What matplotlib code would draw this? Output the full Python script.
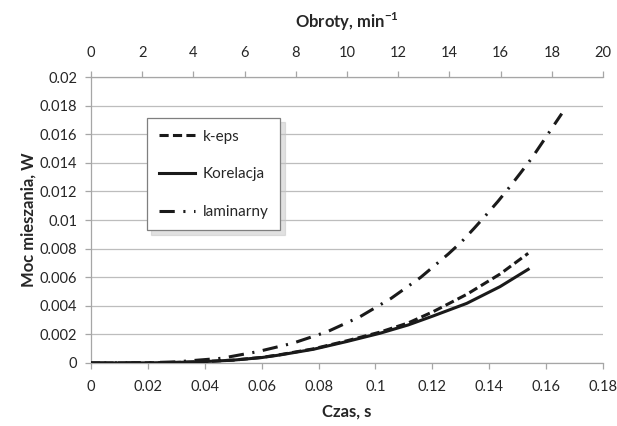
import matplotlib
matplotlib.use('Agg')
import matplotlib.pyplot as plt
import numpy as np

plt.rcParams['font.family'] = ['Lato', 'DejaVu Sans']
plt.rcParams['mathtext.fontset'] = 'custom'
plt.rcParams['mathtext.rm'] = 'Lato'
plt.rcParams['mathtext.bf'] = 'Lato:bold'

# czas [s] i moc [W]
t_keps = [0, 0.02, 0.03, 0.04, 0.05, 0.06, 0.0664, 0.0782, 0.0899, 0.1016, 0.1115,
          0.1203, 0.1321, 0.1438, 0.1537]
p_keps = [0, 0.00001, 0.00004, 0.0001, 0.0002, 0.00039, 0.00058, 0.00099, 0.00155,
          0.00216, 0.0028, 0.00359, 0.0048, 0.00622, 0.00767]

t_kor = [0, 0.02, 0.03, 0.04, 0.05, 0.06, 0.0664, 0.0782, 0.0899, 0.1016, 0.1115,
         0.1203, 0.1321, 0.1438, 0.1537]
p_kor = [0, 0.00001, 0.00004, 0.0001, 0.0002, 0.00038, 0.00056, 0.00096, 0.0015,
         0.00208, 0.00266, 0.00329, 0.00417, 0.00534, 0.00655]

t_lam = [0, 0.02, 0.03, 0.0459, 0.0585, 0.0709, 0.0831, 0.0946, 0.1055, 0.1159,
         0.1256, 0.1303, 0.1347, 0.1389, 0.1431, 0.1471, 0.1510, 0.1549, 0.1584,
         0.1620, 0.1655]
p_lam = [0, 0.00002, 0.00008, 0.00033, 0.00079, 0.00138, 0.00219, 0.00324, 0.00452,
         0.00599, 0.00762, 0.00848, 0.00942, 0.01035, 0.01131, 0.01229, 0.01329,
         0.01431, 0.01534, 0.01641, 0.01744]

x_ticks = [0, 0.02, 0.04, 0.06, 0.08, 0.1, 0.12, 0.14, 0.16, 0.18]
x_labels = ['0', '0.02', '0.04', '0.06', '0.08', '0.1', '0.12', '0.14', '0.16', '0.18']
y_ticks = [0, 0.002, 0.004, 0.006, 0.008, 0.01, 0.012, 0.014, 0.016, 0.018, 0.02]
y_labels = ['0', '0.002', '0.004', '0.006', '0.008', '0.01', '0.012', '0.014', '0.016', '0.018', '0.02']
rpm_ticks = [0, 2, 4, 6, 8, 10, 12, 14, 16, 18, 20]

fig = plt.figure(figsize=(6.17, 4.26), dpi=100)
ax = fig.add_axes([0.1475, 0.1479, 0.8298, 0.6713])

lw = 2.2
ax.plot(t_keps, p_keps, color='#1a1a1a', lw=lw, dashes=(3.0, 1.4),
        dash_capstyle='butt', label='k-eps', zorder=3)
ax.plot(t_kor, p_kor, color='#1a1a1a', lw=lw, label='Korelacja', zorder=3)
ax.plot(t_lam, p_lam, color='#1a1a1a', lw=lw, dashes=(5.0, 2.8, 0.7, 2.8),
        dash_capstyle='butt', label='laminarny', zorder=3)

ax.set_xlim(0, 0.18)
ax.set_ylim(0, 0.02)
ax.set_xticks(x_ticks)
ax.set_xticklabels(x_labels)
ax.set_yticks(y_ticks)
ax.set_yticklabels(y_labels)
ax.yaxis.grid(True, color='#bdbdbd', lw=0.9)
ax.set_axisbelow(True)

for side in ['right', 'top']:
    ax.spines[side].set_visible(False)
for side in ['left', 'bottom']:
    ax.spines[side].set_color('#a6a6a6')
    ax.spines[side].set_linewidth(0.9)
ax.tick_params(axis='both', colors='#a6a6a6', length=4, width=0.9,
               labelsize=10.5, labelcolor='#262626', pad=8)
ax.tick_params(axis='y', pad=6)

ax.set_xlabel('Czas, s', fontsize=12, fontweight='bold', color='#262626')
ax.xaxis.set_label_coords(0.5, -0.14)
ax.set_ylabel('Moc mieszania, W', fontsize=12, fontweight='bold', labelpad=2, color='#262626')

ax2 = ax.twiny()
ax2.set_xlim(0, 20)
ax2.set_xticks(rpm_ticks)
for side in ['right', 'left', 'bottom']:
    ax2.spines[side].set_visible(False)
ax2.spines['top'].set_color('#a6a6a6')
ax2.spines['top'].set_linewidth(0.9)
ax2.tick_params(axis='x', colors='#a6a6a6', length=4, width=0.9,
                labelsize=10.5, labelcolor='#262626', pad=8)
ax2.set_xlabel(r'Obroty, min$^{\mathbf{-1}}$', fontsize=12, fontweight='bold',
               color='#262626')
ax2.xaxis.set_label_coords(0.5, 1.17)

leg = ax.legend(loc='upper left', bbox_to_anchor=(0.11, 0.856), fontsize=11,
                frameon=True, fancybox=False, handlelength=2.4, handletextpad=0.5,
                labelspacing=1.55, borderpad=0.75, borderaxespad=0,
                shadow={'ox': 3, 'oy': -3, 'color': '#c4c4c4'})
leg.get_frame().set_edgecolor('#7f7f7f')
leg.get_frame().set_linewidth(0.9)
for txt in leg.get_texts():
    txt.set_color('#262626')

fig.savefig('out.png', dpi=100)
